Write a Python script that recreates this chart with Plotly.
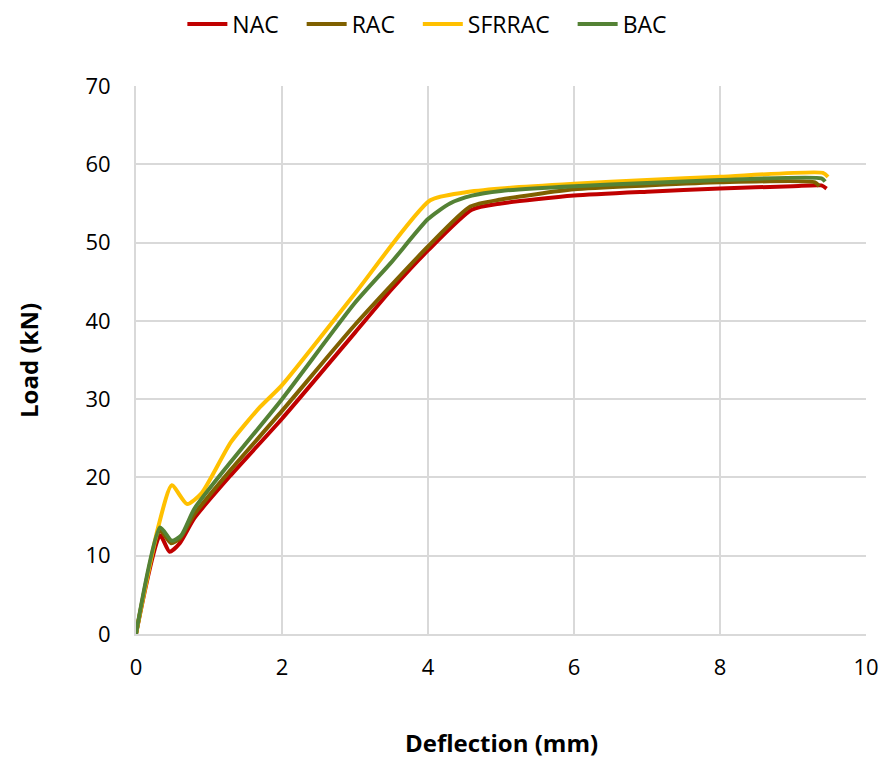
import plotly.graph_objects as go

# Load-deflection curves
nac_x = [0, 0.33, 0.46, 0.6, 0.8, 1.3, 2.0, 3.0, 3.5, 4.0, 4.6, 5.0, 6.0, 7.0, 8.0, 9.0, 9.39, 9.46]
nac_y = [0, 12.6, 10.5, 11.6, 14.8, 20.3, 27.5, 38.5, 44.0, 49.0, 54.2, 55.0, 56.0, 56.5, 56.9, 57.2, 57.3, 56.9]

rac_x = [0, 0.33, 0.48, 0.6, 0.8, 1.3, 2.0, 3.0, 4.0, 4.58, 5.0, 6.0, 7.0, 8.0, 9.3, 9.36]
rac_y = [0, 13.2, 11.6, 12.2, 15.3, 21.0, 28.5, 39.5, 49.5, 54.6, 55.5, 56.8, 57.3, 57.7, 57.7, 57.2]

sfrrac_x = [0, 0.3, 0.49, 0.7, 0.9, 1.3, 1.7, 2.0, 3.0, 4.03, 4.5, 5.0, 6.0, 7.0, 8.0, 9.41, 9.48]
sfrrac_y = [0, 13.5, 19.0, 16.6, 18.0, 24.5, 29.0, 31.8, 43.5, 55.4, 56.4, 56.9, 57.5, 58.0, 58.4, 58.9, 58.4]

bac_x = [0, 0.33, 0.49, 0.62, 0.8, 1.3, 2.0, 3.0, 3.5, 4.0, 4.3, 4.6, 5.0, 6.0, 7.0, 8.0, 9.39, 9.44]
bac_y = [0, 13.6, 11.9, 12.6, 16.0, 22.0, 30.0, 42.3, 47.5, 53.0, 55.0, 56.0, 56.6, 57.2, 57.6, 58.0, 58.2, 57.8]

series = [
    ("NAC", nac_x, nac_y, "#C00000"),
    ("RAC", rac_x, rac_y, "#7F6000"),
    ("SFRRAC", sfrrac_x, sfrrac_y, "#FFC000"),
    ("BAC", bac_x, bac_y, "#548235"),
]

fig = go.Figure()
pad = "\u00a0" * 3  # widen legend spacing
for name, xs, ys, color in series:
    fig.add_trace(go.Scatter(
        x=xs, y=ys, name=name if name == "BAC" else name + pad, mode="lines",
        line=dict(color=color, width=4, shape="spline", smoothing=0.6),
    ))

W, H = 883, 759
font = "'Open Sans', 'Liberation Sans', sans-serif"
axis_style = dict(
    showgrid=True, gridcolor="#D9D9D9", gridwidth=2,
    zeroline=False, showline=True, linecolor="#D9D9D9", linewidth=2,
    ticks="", tickfont=dict(size=22), automargin=False,
)
fig.update_layout(
    width=W, height=H,
    margin=dict(l=136, r=17, t=86, b=125, autoexpand=False),
    paper_bgcolor="white", plot_bgcolor="white",
    font=dict(family=font, size=22, color="black"),
    legend=dict(orientation="h", x=0.484, xanchor="center", xref="container",
                y=1 - 24 / H, yanchor="middle", yref="container",
                font=dict(size=23), itemwidth=40, traceorder="normal"),
    xaxis=dict(range=[0, 10], dtick=2, ticklabelstandoff=13, **axis_style),
    yaxis=dict(range=[0, 70], dtick=10, ticklabelstandoff=19, **axis_style),
    annotations=[
        dict(text="<b>Deflection (mm)</b>", x=0.5, y=-0.1985, xref="paper", yref="paper",
             xanchor="center", yanchor="middle", showarrow=False, font=dict(size=24)),
        dict(text="<b>Load (kN)</b>", x=-0.148, y=0.5, xref="paper", yref="paper",
             xanchor="center", yanchor="middle", textangle=-90, showarrow=False,
             font=dict(size=24)),
    ],
)

# drop the browser's default body margin so the figure fills the window exactly
fig.write_html("out.html", config={"displayModeBar": False},
               post_script="document.body.style.margin='0';document.body.style.overflow='hidden';")
